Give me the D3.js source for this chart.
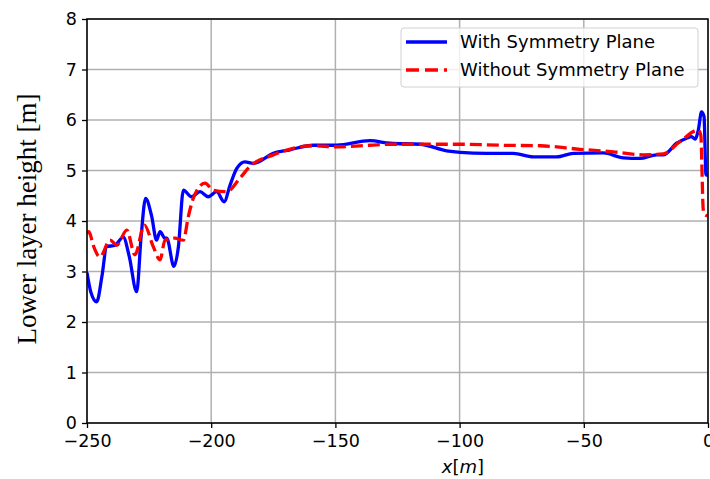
<!DOCTYPE html>
<html><head><meta charset="utf-8">
<script src="https://cdn.jsdelivr.net/npm/d3@7"></script>
<style>body{margin:0;background:#fff}svg{display:block}</style>
</head><body>
<script>
const xTicks = [-250,-200,-150,-100,-50,0];
const yTicks = [0,1,2,3,4,5,6,7,8];
const seriesNames = ["With Symmetry Plane","Without Symmetry Plane"];

const withX = [-250,-248.5,-246.1,-244,-242.1,-238.7,-235.4,-233,-230,-228.2,-226.4,-224,-222,-220.6,-218.6,-217.9,-215,-213.2,-211.2,-207.9,-204.5,-201.2,-197.8,-194.8,-192.4,-189.7,-186.4,-183.1,-175,-168.3,-158.9,-149.5,-136.1,-128,-115.9,-105.2,-99.8,-89.1,-78.4,-70.3,-61,-54.2,-42.1,-34.1,-27.4,-20.7,-18,-12.6,-8.6,-6.6,-5.2,-3.9,-2.6,-1.6,-0.8,0];
const withY = [2.98,2.6,2.40,2.9,3.49,3.52,3.68,3.3,2.60,3.7,4.45,4.1,3.62,3.79,3.66,3.66,3.10,3.49,4.61,4.48,4.58,4.48,4.58,4.38,4.71,5.04,5.17,5.14,5.34,5.41,5.50,5.50,5.59,5.54,5.52,5.39,5.36,5.34,5.34,5.27,5.27,5.34,5.35,5.25,5.24,5.31,5.31,5.54,5.64,5.67,5.62,5.80,6.16,6.07,4.91,4.91];

const withoutX = [-250,-249.2,-247.5,-244.8,-240.7,-238,-234,-230.7,-226.9,-223.3,-220.6,-218.6,-214.6,-211.2,-209.2,-207.2,-202.5,-199.2,-193.8,-188.4,-184.4,-175,-158.9,-149.5,-136.1,-128,-115.9,-99.8,-83.7,-67.6,-51.5,-38.1,-26.1,-18,-11.3,-3.9,-2.9,-1.9,-1.2,0];
const withoutY = [3.75,3.79,3.52,3.29,3.62,3.52,3.82,3.33,3.92,3.49,3.23,3.62,3.66,3.62,4.09,4.45,4.75,4.61,4.58,4.85,5.08,5.31,5.49,5.47,5.50,5.52,5.52,5.52,5.50,5.49,5.42,5.37,5.31,5.33,5.57,5.80,5.70,4.22,4.12,4.10];

const W=710,H=479;
const svg=d3.select("body").append("svg").attr("width",W).attr("height",H);
const x=d3.scaleLinear().domain([-250,0]).range([87,708]);
const y=d3.scaleLinear().domain([0,8]).range([423,19]);
const font="DejaVu Sans, sans-serif";

// grid
svg.append("g").selectAll("line").data(xTicks).join("line")
  .attr("x1",d=>x(d)).attr("x2",d=>x(d)).attr("y1",y(0)).attr("y2",y(8))
  .attr("stroke","#b0b0b0").attr("stroke-width",1.5);
svg.append("g").selectAll("line").data(yTicks).join("line")
  .attr("x1",x(-250)).attr("x2",x(0)).attr("y1",d=>y(d)).attr("y2",d=>y(d))
  .attr("stroke","#b0b0b0").attr("stroke-width",1.5);

// axes
const xa=svg.append("g").attr("transform",`translate(0,${y(0)})`)
  .call(d3.axisBottom(x).tickValues(xTicks).tickSize(5).tickPadding(7).tickFormat(d=>d<0?"\u2212"+Math.abs(d):d));
const ya=svg.append("g").attr("transform",`translate(${x(-250)},0)`)
  .call(d3.axisLeft(y).tickValues(yTicks).tickSize(5).tickPadding(5));
[xa,ya].forEach(a=>{a.select(".domain").remove();a.selectAll("line").attr("stroke","#000").attr("stroke-width",1.3);
  a.selectAll("text").attr("font-family",font).attr("font-size",17.5).attr("fill","#000");});

// lines
svg.append("clipPath").attr("id","c").append("rect").attr("x",x(-250)).attr("y",y(8)).attr("width",x(0)-x(-250)).attr("height",y(0)-y(8));
const line=d3.line().curve(d3.curveMonotoneX);
const ptsA=withX.map((v,i)=>[x(v),y(withY[i])]);
const ptsB=withoutX.map((v,i)=>[x(v),y(withoutY[i])]);
const g=svg.append("g").attr("clip-path","url(#c)");
g.append("path").attr("d",line(ptsA)).attr("fill","none").attr("stroke","#0000ff").attr("stroke-width",3.3);
g.append("path").attr("d",line(ptsB)).attr("fill","none").attr("stroke","#ff0000").attr("stroke-width",3.3).attr("stroke-dasharray","12,5");

// frame
svg.append("rect").attr("x",x(-250)).attr("y",y(8)).attr("width",x(0)-x(-250)).attr("height",y(0)-y(8))
  .attr("fill","none").attr("stroke","#000").attr("stroke-width",1.5);

// legend
const lg=svg.append("g");
lg.append("rect").attr("x",401).attr("y",28).attr("width",297).attr("height",59).attr("rx",3)
  .attr("fill","#fff").attr("fill-opacity",0.8).attr("stroke","#d0d0d0").attr("stroke-width",1);
lg.append("line").attr("x1",406).attr("x2",447).attr("y1",42).attr("y2",42).attr("stroke","#0000ff").attr("stroke-width",3.3);
lg.append("line").attr("x1",406).attr("x2",447).attr("y1",70).attr("y2",70).attr("stroke","#ff0000").attr("stroke-width",3.3).attr("stroke-dasharray","13,6");
lg.selectAll("text").data(seriesNames).join("text").attr("x",460).attr("y",(d,i)=>42+i*28).attr("dy","0.35em")
  .attr("font-family",font).attr("font-size",18).attr("fill","#000").text(d=>d);

// labels
svg.append("text").attr("transform","translate(36,219) rotate(-90)").attr("text-anchor","middle")
  .attr("font-family","Liberation Serif, DejaVu Serif, serif").attr("font-size",27).attr("fill","#000").text("Lower layer height [m]");
const xl=svg.append("text").attr("x",463).attr("y",473).attr("text-anchor","middle")
  .attr("font-family",font).attr("font-size",18).attr("fill","#000");
xl.append("tspan").attr("font-style","italic").text("x");
xl.append("tspan").text("[");
xl.append("tspan").attr("font-style","italic").text("m");
xl.append("tspan").text("]");
</script>
</body></html>
